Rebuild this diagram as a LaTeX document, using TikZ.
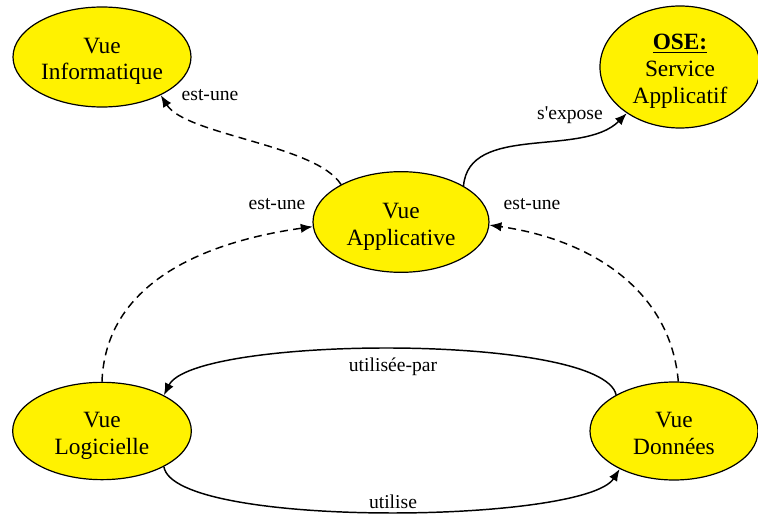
\documentclass[tikz,border=0pt]{standalone}
\usepackage{fontspec}
\setmainfont{Liberation Serif}
\usetikzlibrary{shapes.geometric,arrows.meta}
\newcommand\hautligne{\rule{0pt}{18.5pt}}
\newcommand\basligne{\rule[-4pt]{0pt}{4pt}}
\tikzset{
	vue/.style={ellipse, draw, fill=yellow, line width=0.9pt, inner sep=0pt, align=center,
		font=\fontsize{17.5}{20}\selectfont},
	lien/.style={line width=1.1pt, -{Latex[length=9pt,width=7pt]}},
	estune/.style={lien, dash pattern=on 6pt off 4pt},
	etiq/.style={font=\fontsize{14.7}{16}\selectfont, inner sep=0pt}
}
\begin{document}
\begin{tikzpicture}[x=0.75pt,y=-0.75pt]
	\useasboundingbox (0,0) rectangle (758,517);
	\node[vue, minimum width=133.5pt, minimum height=75pt] (inf) at (102,57) {\hautligne Vue\\Informatique\basligne};
	\node[vue, minimum width=120pt, minimum height=91.5pt] (ose) at (680,67) {\hautligne\underline{\textbf{OSE:}}\\Service\\Applicatif\basligne};
	\node[vue, minimum width=132pt, minimum height=75.5pt] (app) at (401,222) {\hautligne Vue\\Applicative\basligne};
	\node[vue, minimum width=134pt, minimum height=73pt] (log) at (102,431) {\hautligne Vue\\Logicielle\basligne};
	\node[vue, minimum width=126pt, minimum height=73.5pt] (don) at (674,431) {\hautligne Vue\\Donn\'ees\basligne};
	% est-une
	\draw[estune] (app.148) .. controls +(-25,-40) and +(25,40) .. (inf.-33);
	\draw[estune] (log.north) to[out=88,in=188] (app.183);
	\draw[estune] (don.85) to[out=95,in=-8] (app.-2);
	% autres liens
	\draw[lien] (app.30) to[out=85,in=225,looseness=0.9] (ose.221);
	\draw[lien] (don.148) .. controls +(-14,-62) and +(30,-60) .. (log.30);
	\draw[lien] (log.-30) .. controls +(10,62) and +(-35,55) .. (don.215);
	\node[etiq] (e1) at (210,95) {est-une};
	\node[etiq] (e2) at (277,204) {est-une};
	\node[etiq] (e3) at (532,204) {est-une};
	\node[etiq] (e4) at (570,115) {s\textquotesingle expose};
	\node[etiq] (e5) at (393,367) {utilis\'ee-par};
	\node[etiq] (e6) at (393,502) {utilise};
\end{tikzpicture}
\end{document}
